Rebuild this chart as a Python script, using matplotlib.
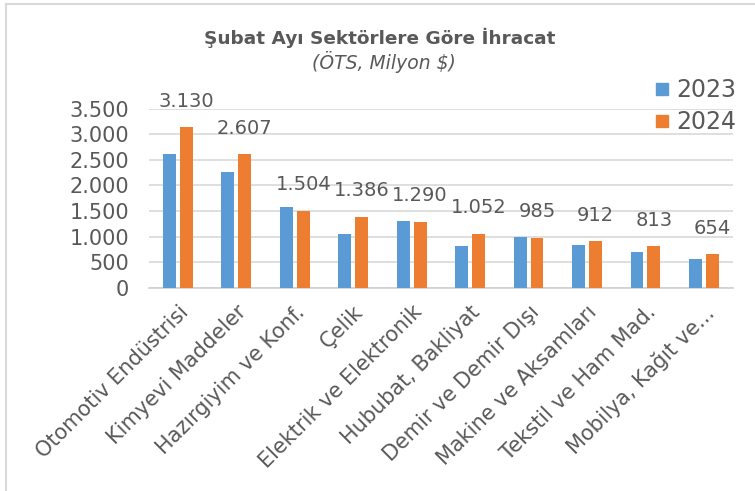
import matplotlib
matplotlib.use("Agg")
import matplotlib.pyplot as plt
import numpy as np
from matplotlib.lines import Line2D

categories = [
    "Otomotiv Endüstrisi",
    "Kimyevi Maddeler",
    "Hazırgiyim ve Konf.",
    "Çelik",
    "Elektrik ve Elektronik",
    "Hububat, Bakliyat",
    "Demir ve Demir Dışı",
    "Makine ve Aksamları",
    "Tekstil ve Ham Mad.",
    "Mobilya, Kağıt ve...",
]
values_2023 = [2605, 2260, 1570, 1055, 1298, 813, 998, 846, 710, 572]
values_2024 = [3130, 2607, 1504, 1386, 1290, 1052, 985, 912, 813, 654]
yticks = [0, 500, 1000, 1500, 2000, 2500, 3000, 3500]
ytick_labels = ["0", "500", "1.000", "1.500", "2.000", "2.500", "3.000", "3.500"]

BLUE = "#5B9BD5"
ORANGE = "#ED7D31"
TEXT = "#595959"

plt.rcParams["font.family"] = ["DejaVu Sans"]

fig = plt.figure(figsize=(7.55, 4.91), dpi=100)
ax = fig.add_axes([0.197, 0.4134, 0.774, 0.3656])

x = np.arange(len(categories))
w = 0.22
gap = 0.07
ax.bar(x - (w + gap) / 2, values_2023, w, color=BLUE, label="2023", zorder=3)
b24 = ax.bar(x + (w + gap) / 2, values_2024, w, color=ORANGE, label="2024", zorder=3)

for rect, v in zip(b24, values_2024):
    ax.annotate(f"{v:,}".replace(",", "."),
                (rect.get_x() + rect.get_width() / 2, rect.get_height()),
                xytext=(0, 12), textcoords="offset points",
                ha="center", va="bottom", fontsize=14, color=TEXT)

ax.set_xlim(-0.5, len(categories) - 0.5)
ax.set_ylim(0, 3500)
ax.set_yticks(yticks)
ax.set_yticklabels(ytick_labels, fontsize=15, color=TEXT)
ax.set_xticks(x)
ax.set_xticklabels(categories, rotation=45, ha="right", rotation_mode="anchor",
                   fontsize=15, color=TEXT)
ax.tick_params(length=0)
ax.tick_params(axis="y", pad=14)
ax.tick_params(axis="x", pad=10)
ax.grid(axis="y", color="#D9D9D9", linewidth=1.2, zorder=0)
for s in ["top", "right", "left"]:
    ax.spines[s].set_visible(False)
ax.spines["bottom"].set_color("#D0D0D0")
ax.spines["bottom"].set_linewidth(1.2)

handles = [Line2D([], [], marker="s", linestyle="", markersize=9, color=BLUE),
           Line2D([], [], marker="s", linestyle="", markersize=9, color=ORANGE)]
leg = fig.legend(handles, ["2023", "2024"], loc="upper left",
                 bbox_to_anchor=(0.855, 0.86), frameon=False, fontsize=17,
                 handlelength=0.6, handletextpad=0.3, labelspacing=0.35,
                 borderaxespad=0)
for t in leg.get_texts():
    t.set_color(TEXT)

fig.text(0.503, 0.922, "Şubat Ayı Sektörlere Göre İhracat", ha="center", va="center",
         fontsize=13.3, fontweight="bold", color=TEXT)
fig.text(0.509, 0.873, "(ÖTS, Milyon $)", ha="center", va="center",
         fontsize=13.5, style="italic", color=TEXT)

# border on left and top (cropped chart frame)
fig.add_artist(Line2D([0.008, 0.008], [0, 0.992], transform=fig.transFigure,
                      color="#D9D9D9", linewidth=1.5))
fig.add_artist(Line2D([0.008, 1], [0.992, 0.992], transform=fig.transFigure,
                      color="#D9D9D9", linewidth=1.5))

fig.savefig("out.png", dpi=100, facecolor="white")
